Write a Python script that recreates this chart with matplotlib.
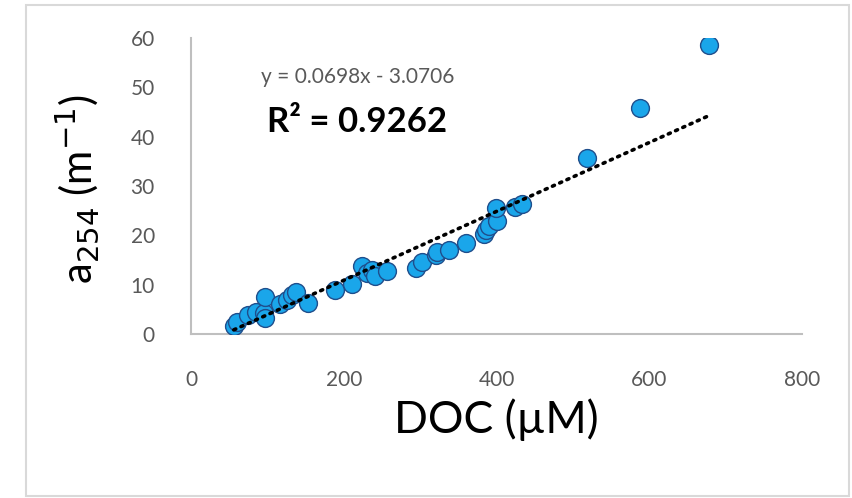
import numpy as np
import matplotlib.pyplot as plt
from matplotlib.patches import Rectangle

# DOC (uM) and a254 (m^-1) for each sample
doc = [56, 60, 75, 85, 96, 97, 97, 117, 126, 132, 137, 153, 189, 211, 224, 230,
       237, 241, 257, 295, 302, 321, 322, 338, 360, 384, 386, 390, 400, 399,
       424, 433, 518, 588, 678]
a254 = [1.6, 2.4, 3.9, 4.5, 4.3, 3.2, 7.5, 6.0, 6.9, 7.9, 8.5, 6.3, 8.9, 10.1,
        13.8, 12.4, 13.0, 11.8, 12.8, 13.4, 14.6, 16.0, 16.6, 17.0, 18.5, 20.3,
        21.1, 21.9, 22.9, 25.6, 25.8, 26.4, 35.7, 45.8, 58.6]

# linear fit reported on the chart
slope = 0.0698
intercept = -3.0706
r2 = 0.9262

plt.rcParams['font.family'] = ['Lato', 'DejaVu Sans']

fig = plt.figure(figsize=(8.53, 4.98), dpi=100)
fig.patches.append(Rectangle((26 / 853, 2 / 498), 823 / 853, 491 / 498,
                             transform=fig.transFigure, fill=False,
                             edgecolor='#d9d9d9', linewidth=1.5))

ax = fig.add_axes([191 / 853, 1 - 334 / 498, 611 / 853, 296 / 498])

ax.scatter(doc, a254, s=165, color='#1aa6ea', edgecolor='#1f4e8c',
           linewidth=1.0, zorder=3)

xfit = np.array([min(doc), max(doc)])
ax.plot(xfit, slope * xfit + intercept, color='black', linewidth=2.6,
        linestyle=(0, (0.6, 1.6)), dash_capstyle='round', zorder=4)

ax.set_xlim(0, 800)
ax.set_ylim(0, 60)
ax.set_xticks(range(0, 801, 200))
ax.set_yticks(range(0, 61, 10))
ax.tick_params(length=0, labelsize=15, labelcolor='#595959')
ax.tick_params(axis='x', pad=26)
ax.tick_params(axis='y', pad=26)

for side in ['top', 'right']:
    ax.spines[side].set_visible(False)
for side in ['left', 'bottom']:
    ax.spines[side].set_color('#bfbfbf')
    ax.spines[side].set_linewidth(1.5)

ax.set_xlabel('DOC (µM)', fontsize=32, va='center')
ax.xaxis.set_label_coords(0.5, -0.29)
ax.set_ylabel('a$_{254}$ (m$^{-1}$)', fontsize=30, va='center')
ax.yaxis.set_label_coords(-0.187, 0.49)

ax.text(0.272, 0.868, 'y = 0.0698x - 3.0706', transform=ax.transAxes,
        ha='center', va='center', fontsize=15, color='#595959')
ax.text(0.272, 0.716, 'R² = %.4f' % r2, transform=ax.transAxes,
        ha='center', va='center', fontsize=25, fontweight='bold')

fig.savefig('out.png', dpi=100)
